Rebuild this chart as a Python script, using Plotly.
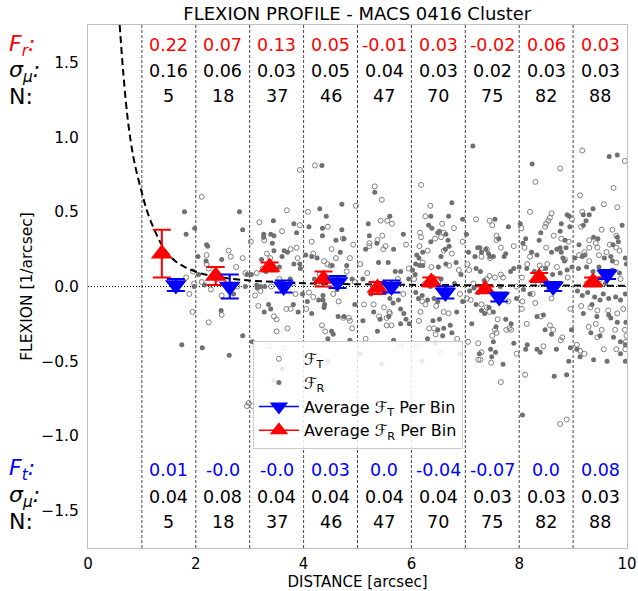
import plotly.graph_objects as go

# ---------------- data ----------------
bin_edges = [1, 2, 3, 4, 5, 6, 7, 8, 9, 10]
bin_centers = [1.5, 2.5, 3.5, 4.5, 5.5, 6.5, 7.5, 8.5, 9.5]
avg_FR = [0.22, 0.07, 0.13, 0.05, -0.01, 0.03, -0.02, 0.06, 0.03]
err_FR = [0.16, 0.06, 0.03, 0.05, 0.04, 0.03, 0.02, 0.03, 0.03]
avg_FT = [0.01, -0.0, -0.0, 0.03, 0.0, -0.04, -0.07, 0.0, 0.08]
err_FT = [0.04, 0.08, 0.04, 0.04, 0.04, 0.04, 0.03, 0.03, 0.03]
counts = [5, 18, 37, 46, 47, 70, 75, 82, 88]
FR_labels = ["0.22", "0.07", "0.13", "0.05", "-0.01", "0.03", "-0.02", "0.06", "0.03"]
FR_sig_labels = ["0.16", "0.06", "0.03", "0.05", "0.04", "0.03", "0.02", "0.03", "0.03"]
FT_labels = ["0.01", "-0.0", "-0.0", "0.03", "0.0", "-0.04", "-0.07", "0.0", "0.08"]
FT_sig_labels = ["0.04", "0.08", "0.04", "0.04", "0.04", "0.04", "0.03", "0.03", "0.03"]
x_offset = 0.13

model_x = [0.588, 0.65, 0.74, 0.85, 0.99, 1.1, 1.24, 1.4, 1.61, 1.8, 2.1, 2.5, 3.0, 3.5, 4.0, 5.0, 6.0, 7.0, 8.0, 9.0, 10.0]
model_y = [1.75, 1.45, 1.11, 0.85, 0.64, 0.50, 0.373, 0.26, 0.173, 0.13, 0.087, 0.06, 0.04, 0.03, 0.022, 0.015, 0.011, 0.009, 0.007, 0.006, 0.005]

FT_pts = [
    (1.82, 0.06), (1.97, 0.02), (1.94, -0.17), (1.88, -0.05), (1.95, 0.10),
    (2.11, 0.60), (2.61, 0.24), (2.20, 0.21), (2.65, 0.20), (2.87, 0.19), (2.75, 0.13), (2.20, 0.15),
    (2.24, 0.12), (2.92, 0.09), (2.11, 0.03), (2.28, -0.02), (2.48, -0.06), (2.48, -0.19), (2.24, -0.24),
    (2.77, 0.00), (2.95, -0.80), (2.98, -0.78), (2.40, 0.05),
    (3.93, 0.78), (3.69, 0.51), (3.18, 0.43), (3.93, 0.41), (3.27, 0.31), (3.76, 0.25), (3.87, 0.26),
    (3.32, 0.22), (3.38, 0.19), (3.89, 0.19), (3.24, 0.12), (3.13, 0.09), (3.10, -0.06), (3.16, -0.13),
    (3.45, -0.20), (3.50, -0.22), (3.68, -0.15), (3.76, -0.15), (3.50, -0.30), (3.36, -0.40), (3.64, -0.41),
    (3.05, -0.80), (3.55, 0.05), (3.80, 0.02), (3.02, 0.30), (3.60, 0.37), (3.20, -0.03), (3.85, -0.05),
    (3.40, 0.00), (3.70, -0.28),
    (4.21, 0.81), (4.97, 0.54), (4.08, 0.50), (4.45, 0.40), (4.73, 0.32), (4.52, 0.25), (4.60, 0.19),
    (4.18, 0.22), (4.38, 0.17), (4.44, 0.15), (4.50, 0.14), (4.86, 0.19), (4.92, 0.28), (4.10, -0.04),
    (4.18, -0.07), (4.74, -0.21), (4.84, -0.21), (4.86, -0.23), (4.34, -0.26), (4.40, -0.30), (4.90, -0.28),
    (4.60, 0.05), (4.25, 0.02), (4.95, 0.03), (4.05, -0.15), (4.65, -0.10), (4.30, 0.08), (4.55, -0.05),
    (4.80, 0.10), (4.15, 0.30),
    (5.32, 0.67), (5.43, 0.44), (5.22, 0.29), (5.22, 0.27), (5.37, 0.31), (5.48, 0.25), (5.18, 0.09),
    (5.55, 0.44), (5.64, 0.42), (5.52, 0.27), (5.90, 0.28), (5.46, 0.34), (5.49, -0.14), (5.60, -0.18),
    (5.54, -0.21), (5.63, -0.26), (5.12, -0.12), (5.30, -0.12), (5.40, -0.20), (5.54, -0.26), (5.59, -0.17),
    (5.75, 0.05), (5.05, 0.15), (5.85, -0.05), (5.30, 0.02), (5.95, 0.12), (5.65, 0.00), (5.15, -0.35),
    (5.80, -0.40), (5.45, 0.58),
    (6.18, 0.68), (6.35, 0.54), (6.26, 0.47), (6.57, 0.42), (6.79, 0.39), (6.16, 0.36), (6.18, 0.33),
    (6.44, 0.32), (6.55, 0.33), (6.60, 0.36), (6.15, 0.27), (6.30, 0.24), (6.60, 0.24), (6.37, 0.13),
    (6.21, 0.16), (6.70, 0.14), (6.88, 0.11), (6.20, -0.10), (6.26, -0.12), (6.17, -0.17), (6.14, -0.23),
    (6.60, -0.17), (6.69, -0.18), (6.46, -0.13), (6.33, -0.28), (6.42, -0.28), (6.45, -0.32), (6.05, 0.05),
    (6.50, 0.03), (6.90, -0.05), (6.75, 0.22), (6.95, 0.30), (6.10, -0.40), (6.55, -0.45), (6.85, -0.35),
    (6.40, 0.06), (6.65, -0.02), (6.25, 0.02),
    (7.20, 0.45), (7.45, 0.44), (7.50, 0.41), (7.58, 0.34), (7.58, 0.31), (7.40, 0.25), (7.30, 0.20),
    (7.46, 0.19), (7.66, 0.26), (7.04, 0.15), (7.07, 0.11), (7.55, 0.06), (7.66, 0.08), (7.70, 0.06),
    (7.40, 0.05), (7.45, 0.07), (7.90, 0.27), (7.03, -0.08), (7.10, -0.09), (7.30, -0.12), (7.40, -0.14),
    (7.45, -0.17), (7.60, -0.22), (7.55, -0.29), (7.58, -0.31), (7.50, -0.33), (7.24, -0.38), (7.30, -0.44),
    (7.24, -0.49), (7.28, -0.49), (7.48, -0.51), (7.05, -0.37), (7.66, -0.64), (7.76, -0.29), (7.82, -0.28),
    (7.85, -0.29), (7.95, 0.00), (7.15, 0.02), (7.80, -0.10), (7.95, -0.45),
    (8.30, 0.70), (8.76, 0.79), (8.20, 0.50), (8.60, 0.49), (8.57, 0.46), (8.54, 0.44), (8.50, 0.42),
    (8.48, 0.40), (8.04, 0.39), (8.64, 0.34), (8.78, 0.32), (8.92, 0.30), (8.10, 0.26), (8.50, 0.26),
    (8.15, 0.15), (8.38, 0.14), (8.52, 0.15), (8.42, 0.12), (8.70, 0.13), (8.05, 0.06), (8.90, 0.06),
    (8.05, -0.15), (8.06, -0.10), (8.14, -0.25), (8.25, -0.05), (8.30, -0.11), (8.57, -0.26), (8.63, -0.29),
    (8.80, -0.34), (8.77, -0.36), (8.11, -0.59), (8.76, -0.92), (8.88, -0.89), (8.35, 0.02), (8.95, -0.15),
    (8.45, -0.40), (8.68, 0.00), (8.20, 0.20), (8.85, 0.18), (8.60, -0.08), (8.40, -0.20), (8.98, 0.45),
    (9.17, 0.91), (9.96, 0.84), (9.75, 0.66), (9.13, 0.61), (9.17, 0.50), (9.57, 0.55), (9.15, 0.40),
    (9.82, 0.53), (9.53, 0.38), (9.73, 0.38), (9.80, 0.34), (9.30, 0.31), (9.42, 0.29), (9.45, 0.26),
    (9.30, 0.26), (9.62, 0.23), (9.68, 0.28), (9.80, 0.26), (9.86, 0.24), (9.11, 0.21), (9.21, 0.23),
    (9.30, 0.17), (9.48, 0.21), (9.80, 0.16), (9.15, -0.13), (9.32, -0.14), (9.45, -0.16), (9.65, -0.16),
    (9.82, -0.18), (9.93, -0.15), (9.42, -0.25), (9.29, -0.27), (9.53, -0.29), (9.78, -0.29), (9.96, -0.29),
    (9.99, -0.33), (9.07, -0.39), (9.13, -0.43), (9.21, -0.45), (9.45, -0.34), (9.57, -0.42), (9.80, -0.42),
    (9.97, -0.42), (9.98, -0.37), (9.50, 0.05), (9.25, 0.02), (9.88, 0.05),
]

FR_pts = [
    (1.79, 0.50), (1.82, 0.35), (1.98, 0.39), (1.74, -0.39), (1.97, 0.00),
    (2.81, 0.50), (2.87, 0.38), (2.20, 0.28), (2.22, 0.27), (2.04, 0.20), (2.48, 0.18), (2.19, 0.17),
    (2.16, 0.01), (2.47, -0.16), (2.87, -0.33), (2.12, -0.41), (2.62, -0.46), (2.92, 0.00), (2.95, 0.08),
    (2.35, 0.10), (2.70, -0.05), (2.05, 0.08), (2.55, 0.02),
    (3.44, 0.44), (3.82, 0.42), (3.26, 0.35), (3.26, 0.33), (3.39, 0.35), (3.45, 0.34), (3.42, 0.29),
    (3.87, 0.36), (3.64, 0.24), (3.70, 0.23), (3.45, 0.24), (3.22, 0.18), (3.60, 0.20), (3.82, 0.15),
    (3.93, 0.15), (3.94, 0.12), (3.30, 0.10), (3.13, 0.01), (3.20, 0.00), (3.14, -0.01), (3.28, 0.00),
    (3.35, -0.12), (3.39, -0.15), (3.27, -0.17), (3.81, -0.12), (3.90, -0.17), (3.05, -0.37), (3.03, 0.08),
    (3.55, 0.13), (3.75, 0.05), (3.98, -0.05), (3.60, -0.55), (3.45, -0.63),
    (4.34, 0.81), (4.71, 0.55), (4.30, 0.52), (4.42, 0.47), (4.35, 0.39), (4.35, 0.34), (4.71, 0.38),
    (4.75, 0.32), (4.60, 0.31), (4.68, 0.23), (4.15, 0.20), (4.25, 0.19), (4.04, 0.21), (4.80, 0.14),
    (4.53, 0.14), (4.36, -0.06), (4.36, -0.09), (4.39, -0.12), (4.38, -0.14), (4.28, -0.09), (4.64, -0.20),
    (4.15, -0.18), (4.52, -0.30), (4.55, -0.32), (4.45, -0.35), (4.86, -0.36), (4.07, -0.10), (4.75, -0.20),
    (4.90, 0.05), (4.20, 0.05), (4.62, -0.02), (4.95, -0.12), (4.45, -0.50), (4.10, 0.40),
    (5.32, 0.63), (5.20, 0.42), (5.22, 0.34), (5.36, 0.29), (5.39, 0.16), (5.60, 0.47), (5.67, 0.25),
    (5.57, 0.16), (5.70, 0.10), (5.80, 0.10), (5.60, -0.08), (5.66, -0.11), (5.76, -0.09), (5.80, -0.15),
    (5.86, -0.18), (5.90, -0.22), (5.80, -0.25), (5.96, -0.25), (5.67, -0.36), (5.10, -0.23), (5.30, -0.17),
    (5.37, -0.30), (5.42, -0.22), (5.58, -0.20), (5.10, 0.05), (5.50, 0.02), (5.25, -0.05), (5.95, 0.05),
    (5.05, -0.45), (5.45, -0.52), (5.15, 0.25), (5.85, 0.35),
    (6.36, 0.47), (6.75, 0.56), (6.69, 0.47), (6.32, 0.41), (6.38, 0.39), (6.49, 0.36), (6.52, 0.37),
    (6.36, 0.30), (6.64, 0.35), (6.68, 0.31), (6.21, 0.23), (6.10, 0.21), (6.14, 0.19), (6.63, 0.25),
    (6.70, 0.27), (6.08, 0.15), (6.15, 0.14), (6.21, 0.14), (6.50, 0.13), (6.64, 0.15), (6.83, 0.16),
    (6.02, 0.11), (6.07, 0.08), (6.92, 0.08), (6.08, -0.04), (6.13, -0.08), (6.20, -0.06), (6.30, -0.09),
    (6.42, -0.08), (6.49, -0.10), (6.52, -0.22), (6.40, -0.23), (6.49, -0.29), (6.72, -0.26), (6.75, -0.31),
    (6.60, -0.28), (6.84, -0.17), (6.30, -0.35), (6.45, -0.38), (6.58, -0.33), (6.95, -0.10), (6.80, 0.02),
    (6.35, 0.00), (6.55, 0.05), (6.90, -0.45), (6.20, -0.50), (6.55, 0.20), (6.95, 0.45),
    (7.14, 0.94), (7.55, 0.45), (7.23, 0.26), (7.27, 0.26), (7.38, 0.25), (7.06, 0.23), (7.18, 0.20),
    (7.30, 0.23), (7.43, 0.22), (7.52, 0.20), (7.75, 0.22), (7.72, 0.20), (7.20, 0.12), (7.28, 0.10),
    (7.84, 0.10), (7.90, 0.12), (7.46, 0.20), (7.08, -0.03), (7.16, -0.01), (7.24, -0.04), (7.30, -0.16),
    (7.36, -0.18), (7.44, -0.14), (7.52, -0.17), (7.20, -0.12), (7.57, -0.27), (7.52, -0.37), (7.47, -0.42),
    (7.56, -0.44), (7.49, -0.47), (7.26, -0.45), (7.75, -0.22), (7.85, -0.25), (7.65, 0.00), (7.35, 0.04),
    (7.95, -0.08), (7.02, 0.35), (7.90, -0.38), (7.70, -0.52), (7.12, -0.25), (7.62, 0.32), (7.80, 0.40),
    (8.24, 0.82), (8.78, 0.42), (8.89, 0.48), (8.93, 0.47), (8.94, 0.40), (8.02, 0.42), (8.40, 0.36),
    (8.37, 0.31), (8.12, 0.32), (8.07, 0.29), (8.76, 0.37), (8.85, 0.31), (8.76, 0.26), (8.87, 0.26),
    (8.23, 0.23), (8.33, 0.21), (8.60, 0.23), (8.70, 0.25), (8.78, 0.23), (8.81, 0.19), (8.84, 0.17),
    (8.00, 0.13), (8.14, 0.12), (8.28, 0.10), (8.49, 0.12), (8.62, 0.08), (8.76, 0.09), (8.89, 0.11),
    (8.98, 0.13), (8.15, -0.39), (8.12, -0.42), (8.33, -0.42), (8.39, -0.44), (8.33, -0.20), (8.45, -0.19),
    (8.48, -0.29), (8.60, -0.32), (8.69, -0.42), (8.06, -0.86), (8.88, -0.59), (8.97, -0.29), (8.95, -0.41),
    (8.92, -0.50), (8.20, -0.05), (8.55, -0.02), (8.45, 0.05), (8.08, -0.02), (8.65, -0.60),
    (9.67, 0.87), (9.82, 0.88), (9.37, 0.52), (9.30, 0.48), (9.19, 0.48), (9.24, 0.44), (9.19, 0.41),
    (9.91, 0.41), (9.82, 0.33), (9.84, 0.30), (9.74, 0.28), (9.38, 0.33), (9.46, 0.32), (9.11, 0.28),
    (9.17, 0.20), (9.03, 0.19), (9.22, 0.21), (9.58, 0.19), (9.70, 0.20), (9.73, 0.17), (9.97, 0.19),
    (9.99, 0.15), (9.10, 0.12), (9.25, 0.13), (9.37, 0.10), (9.48, 0.13), (9.73, 0.11), (9.86, 0.09),
    (9.08, -0.03), (9.17, -0.06), (9.27, -0.04), (9.40, -0.07), (9.50, -0.09), (9.56, -0.05), (9.66, -0.08),
    (9.79, -0.07), (9.88, -0.09), (9.97, -0.05), (9.19, -0.18), (9.44, -0.20), (9.66, -0.19), (9.70, -0.21),
    (9.82, -0.24), (9.98, -0.24), (9.33, -0.31), (9.50, -0.33), (9.75, -0.34), (9.88, -0.37), (9.97, -0.39),
    (9.07, -0.42), (9.13, -0.47), (9.38, -0.49), (9.63, -0.50), (9.88, -0.45), (9.97, -0.50), (9.60, 0.02),
    (9.35, -0.12),
]

# ---------------- figure ----------------
FONT = "DejaVu Sans"
fig = go.Figure()

fig.add_trace(go.Scatter(
    x=[p[0] for p in FT_pts], y=[p[1] for p in FT_pts], mode="markers",
    marker=dict(symbol="circle-open", size=5, color="#808080", line=dict(width=1, color="#808080")),
    name="ℱ<sub>T</sub>", showlegend=True))
fig.add_trace(go.Scatter(
    x=[p[0] for p in FR_pts], y=[p[1] for p in FR_pts], mode="markers",
    marker=dict(symbol="circle", size=5, color="#707070"),
    name="ℱ<sub>R</sub>", showlegend=True))

fig.add_trace(go.Scatter(x=model_x, y=model_y, mode="lines",
                         line=dict(color="black", width=2, dash="7px,4px", shape="spline"),
                         showlegend=False, hoverinfo="skip"))

fig.add_trace(go.Scatter(
    x=[c - x_offset for c in bin_centers], y=avg_FR, mode="markers",
    marker=dict(symbol="triangle-up", size=19, color="red"),
    error_y=dict(type="data", array=err_FR, color="red", thickness=2, width=9),
    showlegend=False))
fig.add_trace(go.Scatter(
    x=[c + x_offset for c in bin_centers], y=avg_FT, mode="markers",
    marker=dict(symbol="triangle-down", size=19, color="blue"),
    error_y=dict(type="data", array=err_FT, color="blue", thickness=2, width=9),
    showlegend=False))

# legend-only entries
fig.add_trace(go.Scatter(x=[None], y=[None], mode="lines+markers",
                         marker=dict(symbol="triangle-down", size=17, color="blue"),
                         line=dict(color="blue", width=1.5),
                         name="Average ℱ<sub>T</sub> Per Bin"))
fig.add_trace(go.Scatter(x=[None], y=[None], mode="lines+markers",
                         marker=dict(symbol="triangle-up", size=17, color="red"),
                         line=dict(color="red", width=1.5),
                         name="Average ℱ<sub>R</sub> Per Bin"))

shapes = []
for e in bin_edges[:-1]:
    shapes.append(dict(type="line", xref="x", yref="paper", x0=e, x1=e, y0=0, y1=1,
                       line=dict(color="#444444", width=1, dash="3px,2px"), layer="below"))
shapes.append(dict(type="line", xref="paper", yref="y", x0=0, x1=1, y0=0, y1=0,
                   line=dict(color="black", width=1, dash="1px,2px"), layer="below"))

ann = []
VAL_SIZE = 17.5
top_rows = [(1.613, FR_labels, "red"), (1.44, FR_sig_labels, "black"), (1.273, [str(c) for c in counts], "black")]
bot_rows = [(-1.227, FT_labels, "blue"), (-1.407, FT_sig_labels, "black"), (-1.573, [str(c) for c in counts], "black")]
for yv, labels, col in top_rows + bot_rows:
    for c, t in zip(bin_centers, labels):
        ann.append(dict(x=c, y=yv, xref="x", yref="y", text=t, showarrow=False,
                        font=dict(family=FONT, size=VAL_SIZE, color=col), xanchor="center", yanchor="middle"))

left_labels = [
    (1.613, "<i>F</i><sub><i>r</i></sub><i>:</i>", "red"),
    (1.44, "<i>σ</i><sub><i>μ</i></sub><i>:</i>", "black"),
    (1.273, "N:", "black"),
    (-1.227, "<i>F</i><sub><i>t</i></sub><i>:</i>", "blue"),
    (-1.407, "<i>σ</i><sub><i>μ</i></sub><i>:</i>", "black"),
    (-1.573, "N:", "black"),
]
for yv, t, col in left_labels:
    ann.append(dict(x=-0.15, y=yv, xref="paper", yref="y", text=t, showarrow=False,
                    font=dict(family=FONT, size=22, color=col), xanchor="left", yanchor="middle"))

fig.update_layout(
    width=638, height=591,
    margin=dict(l=88, r=11, t=25, b=43, autoexpand=False),
    paper_bgcolor="white", plot_bgcolor="white",
    font=dict(family=FONT, size=15, color="black"),
    title=dict(text="FLEXION PROFILE - MACS 0416 Cluster", x=0.56, xanchor="center", y=0.976, yanchor="middle",
               font=dict(family=FONT, size=18, color="black")),
    shapes=shapes, annotations=ann,
    legend=dict(x=0.306, y=0.396, xanchor="left", yanchor="top", bgcolor="rgba(255,255,255,0.85)",
                bordercolor="#cccccc", borderwidth=1, font=dict(family=FONT, size=16), itemwidth=40,
                tracegroupgap=0),
)
fig.update_xaxes(range=[0, 10], tickvals=[0, 2, 4, 6, 8, 10], ticks="outside", ticklen=2,
                 tickcolor="rgba(0,0,0,0)", automargin=False,
                 showline=True, linecolor="#bfbfbf", linewidth=1, mirror=True, showgrid=False, zeroline=False,
                 tickfont=dict(size=15), title=dict(text="DISTANCE [arcsec]", font=dict(size=15), standoff=0))
fig.update_yaxes(range=[-1.75, 1.75], tickvals=[-1.5, -1.0, -0.5, 0.0, 0.5, 1.0, 1.5],
                 ticktext=["−1.5", "−1.0", "−0.5", "0.0", "0.5", "1.0", "1.5"],
                 ticks="outside", ticklen=5, tickcolor="rgba(0,0,0,0)", automargin=False,
                 showline=True, linecolor="#bfbfbf", linewidth=1, mirror=True, showgrid=False, zeroline=False,
                 tickfont=dict(size=15.5), title=dict(text="FLEXION [1/arcsec]", font=dict(size=15.5), standoff=4))

fig.write_html("out.html")
